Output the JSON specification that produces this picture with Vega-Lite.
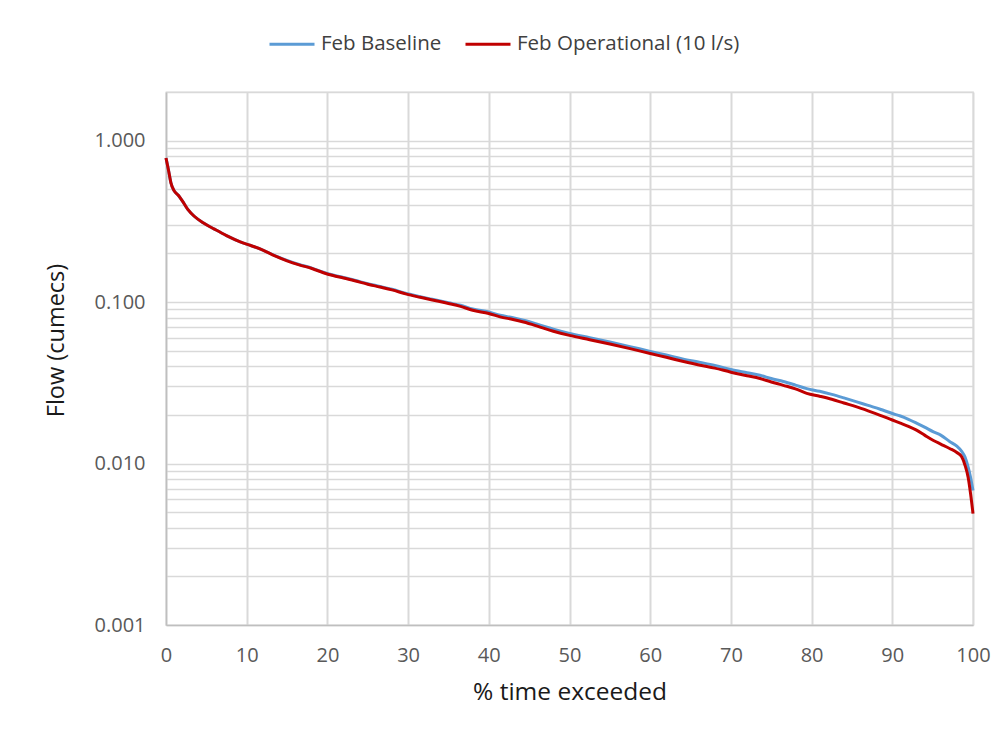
{
  "$schema": "https://vega.github.io/schema/vega-lite/v6.json",
  "width": 807,
  "height": 533,
  "autosize": {"type": "none"},
  "padding": {"left": 166, "top": 92, "right": 28, "bottom": 111},
  "background": "white",
  "data": {
    "values": [
      {"p": 0, "b": 0.78, "o": 0.78},
      {"p": 0.3, "b": 0.66, "o": 0.66},
      {"p": 0.6, "b": 0.55, "o": 0.55},
      {"p": 1.0, "b": 0.49, "o": 0.49},
      {"p": 1.5, "b": 0.46, "o": 0.46},
      {"p": 2.0, "b": 0.425, "o": 0.425},
      {"p": 2.7, "b": 0.375, "o": 0.375},
      {"p": 3.5, "b": 0.34, "o": 0.34},
      {"p": 4.6, "b": 0.31, "o": 0.31},
      {"p": 6.0, "b": 0.283, "o": 0.283},
      {"p": 7.5, "b": 0.258, "o": 0.258},
      {"p": 9.2, "b": 0.236, "o": 0.236},
      {"p": 10.5, "b": 0.224, "o": 0.224},
      {"p": 12.0, "b": 0.21, "o": 0.21},
      {"p": 13.5, "b": 0.194, "o": 0.193},
      {"p": 15.0, "b": 0.181, "o": 0.18},
      {"p": 16.5, "b": 0.171, "o": 0.17},
      {"p": 18.0, "b": 0.163, "o": 0.162},
      {"p": 19.5, "b": 0.153, "o": 0.152},
      {"p": 20.7, "b": 0.147, "o": 0.146},
      {"p": 22.0, "b": 0.142, "o": 0.141},
      {"p": 23.5, "b": 0.136, "o": 0.135},
      {"p": 25.0, "b": 0.13, "o": 0.129},
      {"p": 26.5, "b": 0.125, "o": 0.124},
      {"p": 28.0, "b": 0.12, "o": 0.119},
      {"p": 29.8, "b": 0.113, "o": 0.112},
      {"p": 31.5, "b": 0.108, "o": 0.107},
      {"p": 33.0, "b": 0.104, "o": 0.103},
      {"p": 35.0, "b": 0.099, "o": 0.098},
      {"p": 36.5, "b": 0.0955, "o": 0.094},
      {"p": 38.0, "b": 0.0905, "o": 0.089},
      {"p": 40.0, "b": 0.0868, "o": 0.085},
      {"p": 41.4, "b": 0.0828, "o": 0.081},
      {"p": 43.0, "b": 0.08, "o": 0.078},
      {"p": 44.3, "b": 0.0772, "o": 0.0752},
      {"p": 46.0, "b": 0.073, "o": 0.071},
      {"p": 48.0, "b": 0.068, "o": 0.066},
      {"p": 50.0, "b": 0.064, "o": 0.0622},
      {"p": 52.5, "b": 0.0602, "o": 0.0585},
      {"p": 55.0, "b": 0.0566, "o": 0.055},
      {"p": 57.5, "b": 0.053, "o": 0.0515},
      {"p": 60.0, "b": 0.0495, "o": 0.048},
      {"p": 62.0, "b": 0.047, "o": 0.0455},
      {"p": 64.0, "b": 0.0445, "o": 0.043},
      {"p": 66.2, "b": 0.0423, "o": 0.0406},
      {"p": 68.0, "b": 0.0405, "o": 0.039},
      {"p": 70.0, "b": 0.0382, "o": 0.0368},
      {"p": 72.0, "b": 0.0365, "o": 0.035},
      {"p": 73.6, "b": 0.0352, "o": 0.0336},
      {"p": 75.0, "b": 0.0336, "o": 0.032},
      {"p": 76.5, "b": 0.0322, "o": 0.0305},
      {"p": 78.0, "b": 0.0306, "o": 0.029},
      {"p": 79.4, "b": 0.0291, "o": 0.0272},
      {"p": 81.0, "b": 0.028, "o": 0.0261},
      {"p": 82.5, "b": 0.0268, "o": 0.025},
      {"p": 84.0, "b": 0.0255, "o": 0.0237},
      {"p": 85.5, "b": 0.0242, "o": 0.0225},
      {"p": 87.0, "b": 0.0229, "o": 0.0212},
      {"p": 88.5, "b": 0.0217, "o": 0.0199},
      {"p": 90.0, "b": 0.0204, "o": 0.0186},
      {"p": 91.0, "b": 0.0197, "o": 0.0178},
      {"p": 92.0, "b": 0.0188, "o": 0.017},
      {"p": 93.0, "b": 0.0178, "o": 0.0161},
      {"p": 94.0, "b": 0.0168, "o": 0.015},
      {"p": 95.1, "b": 0.0157, "o": 0.0139},
      {"p": 96.0, "b": 0.015, "o": 0.0132},
      {"p": 97.1, "b": 0.0137, "o": 0.0124},
      {"p": 98.0, "b": 0.0128, "o": 0.0117},
      {"p": 98.6, "b": 0.0119, "o": 0.011},
      {"p": 99.0, "b": 0.011, "o": 0.0098},
      {"p": 99.4, "b": 0.0095, "o": 0.0082},
      {"p": 99.7, "b": 0.0082, "o": 0.0065},
      {"p": 100.0, "b": 0.0068, "o": 0.0049}
    ]
  },
  "transform": [
    {"fold": ["b", "o"], "as": ["key", "flow"]},
    {"lookup": "key", "from": {"data": {"values": [{"key": "b", "series": "Feb Baseline"}, {"key": "o", "series": "Feb Operational (10 l/s)"}]}, "key": "key", "fields": ["series"]}}
  ],
  "mark": {"type": "line", "strokeWidth": 3, "interpolate": "monotone"},
  "encoding": {
    "x": {
      "field": "p",
      "type": "quantitative",
      "scale": {"domain": [0, 100], "nice": false, "zero": false},
      "axis": {
        "title": "% time exceeded",
        "values": [0, 10, 20, 30, 40, 50, 60, 70, 80, 90, 100],
        "format": "d",
        "grid": true,
        "gridColor": "#d9d9d9",
        "gridWidth": 2,
        "labelFlush": false,
        "labelPadding": 20,
        "titleY": 67,
        "titleBaseline": "middle",
        "titleFontSize": 24.5
      }
    },
    "y": {
      "field": "flow",
      "type": "quantitative",
      "scale": {"type": "log", "domain": [0.001, 2], "nice": false, "zero": false},
      "axis": {
        "title": "Flow (cumecs)",
        "values": [0.001, 0.002, 0.003, 0.004, 0.005, 0.006, 0.007, 0.008, 0.009, 0.01, 0.02, 0.03, 0.04, 0.05, 0.06, 0.07, 0.08, 0.09, 0.1, 0.2, 0.3, 0.4, 0.5, 0.6, 0.7, 0.8, 0.9, 1, 2],
        "labelExpr": "(datum.value == 1 || datum.value == 0.1 || datum.value == 0.01 || datum.value == 0.001) ? format(datum.value, '.3f') : ''",
        "labelOverlap": false,
        "labelBound": false,
        "labelPadding": 21,
        "grid": true,
        "gridColor": "#d9d9d9",
        "gridWidth": 1.3,
        "titleAngle": -90,
        "titleX": -110,
        "titleY": 248,
        "titleAlign": "center",
        "titleBaseline": "middle",
        "titleFontSize": 23.5
      }
    },
    "color": {
      "field": "series",
      "type": "nominal",
      "scale": {"domain": ["Feb Baseline", "Feb Operational (10 l/s)"], "range": ["#5b9bd5", "#c00000"]},
      "legend": {
        "title": null,
        "orient": "none",
        "legendX": 102,
        "legendY": -72,
        "direction": "horizontal",
        "symbolType": "stroke",
        "symbolSize": 2025,
        "symbolStrokeWidth": 3,
        "labelFontSize": 20.5,
        "labelOffset": 5,
        "labelLimit": 500,
        "columnPadding": 17,
        "labelColor": "#404040",
        "labelFont": "Open Sans"
      }
    }
  },
  "config": {
    "view": {"stroke": "#d9d9d9", "strokeWidth": 1.3},
    "axis": {
      "domainColor": "#bfbfbf",
      "domainWidth": 1.5,
      "ticks": false,
      "labelFont": "Open Sans",
      "labelFontSize": 20,
      "labelColor": "#595959",
      "titleFont": "Open Sans",
      "titleFontWeight": "normal",
      "titleColor": "#1a1a1a"
    },
    "legend": {"labelFont": "Open Sans"}
  }
}
